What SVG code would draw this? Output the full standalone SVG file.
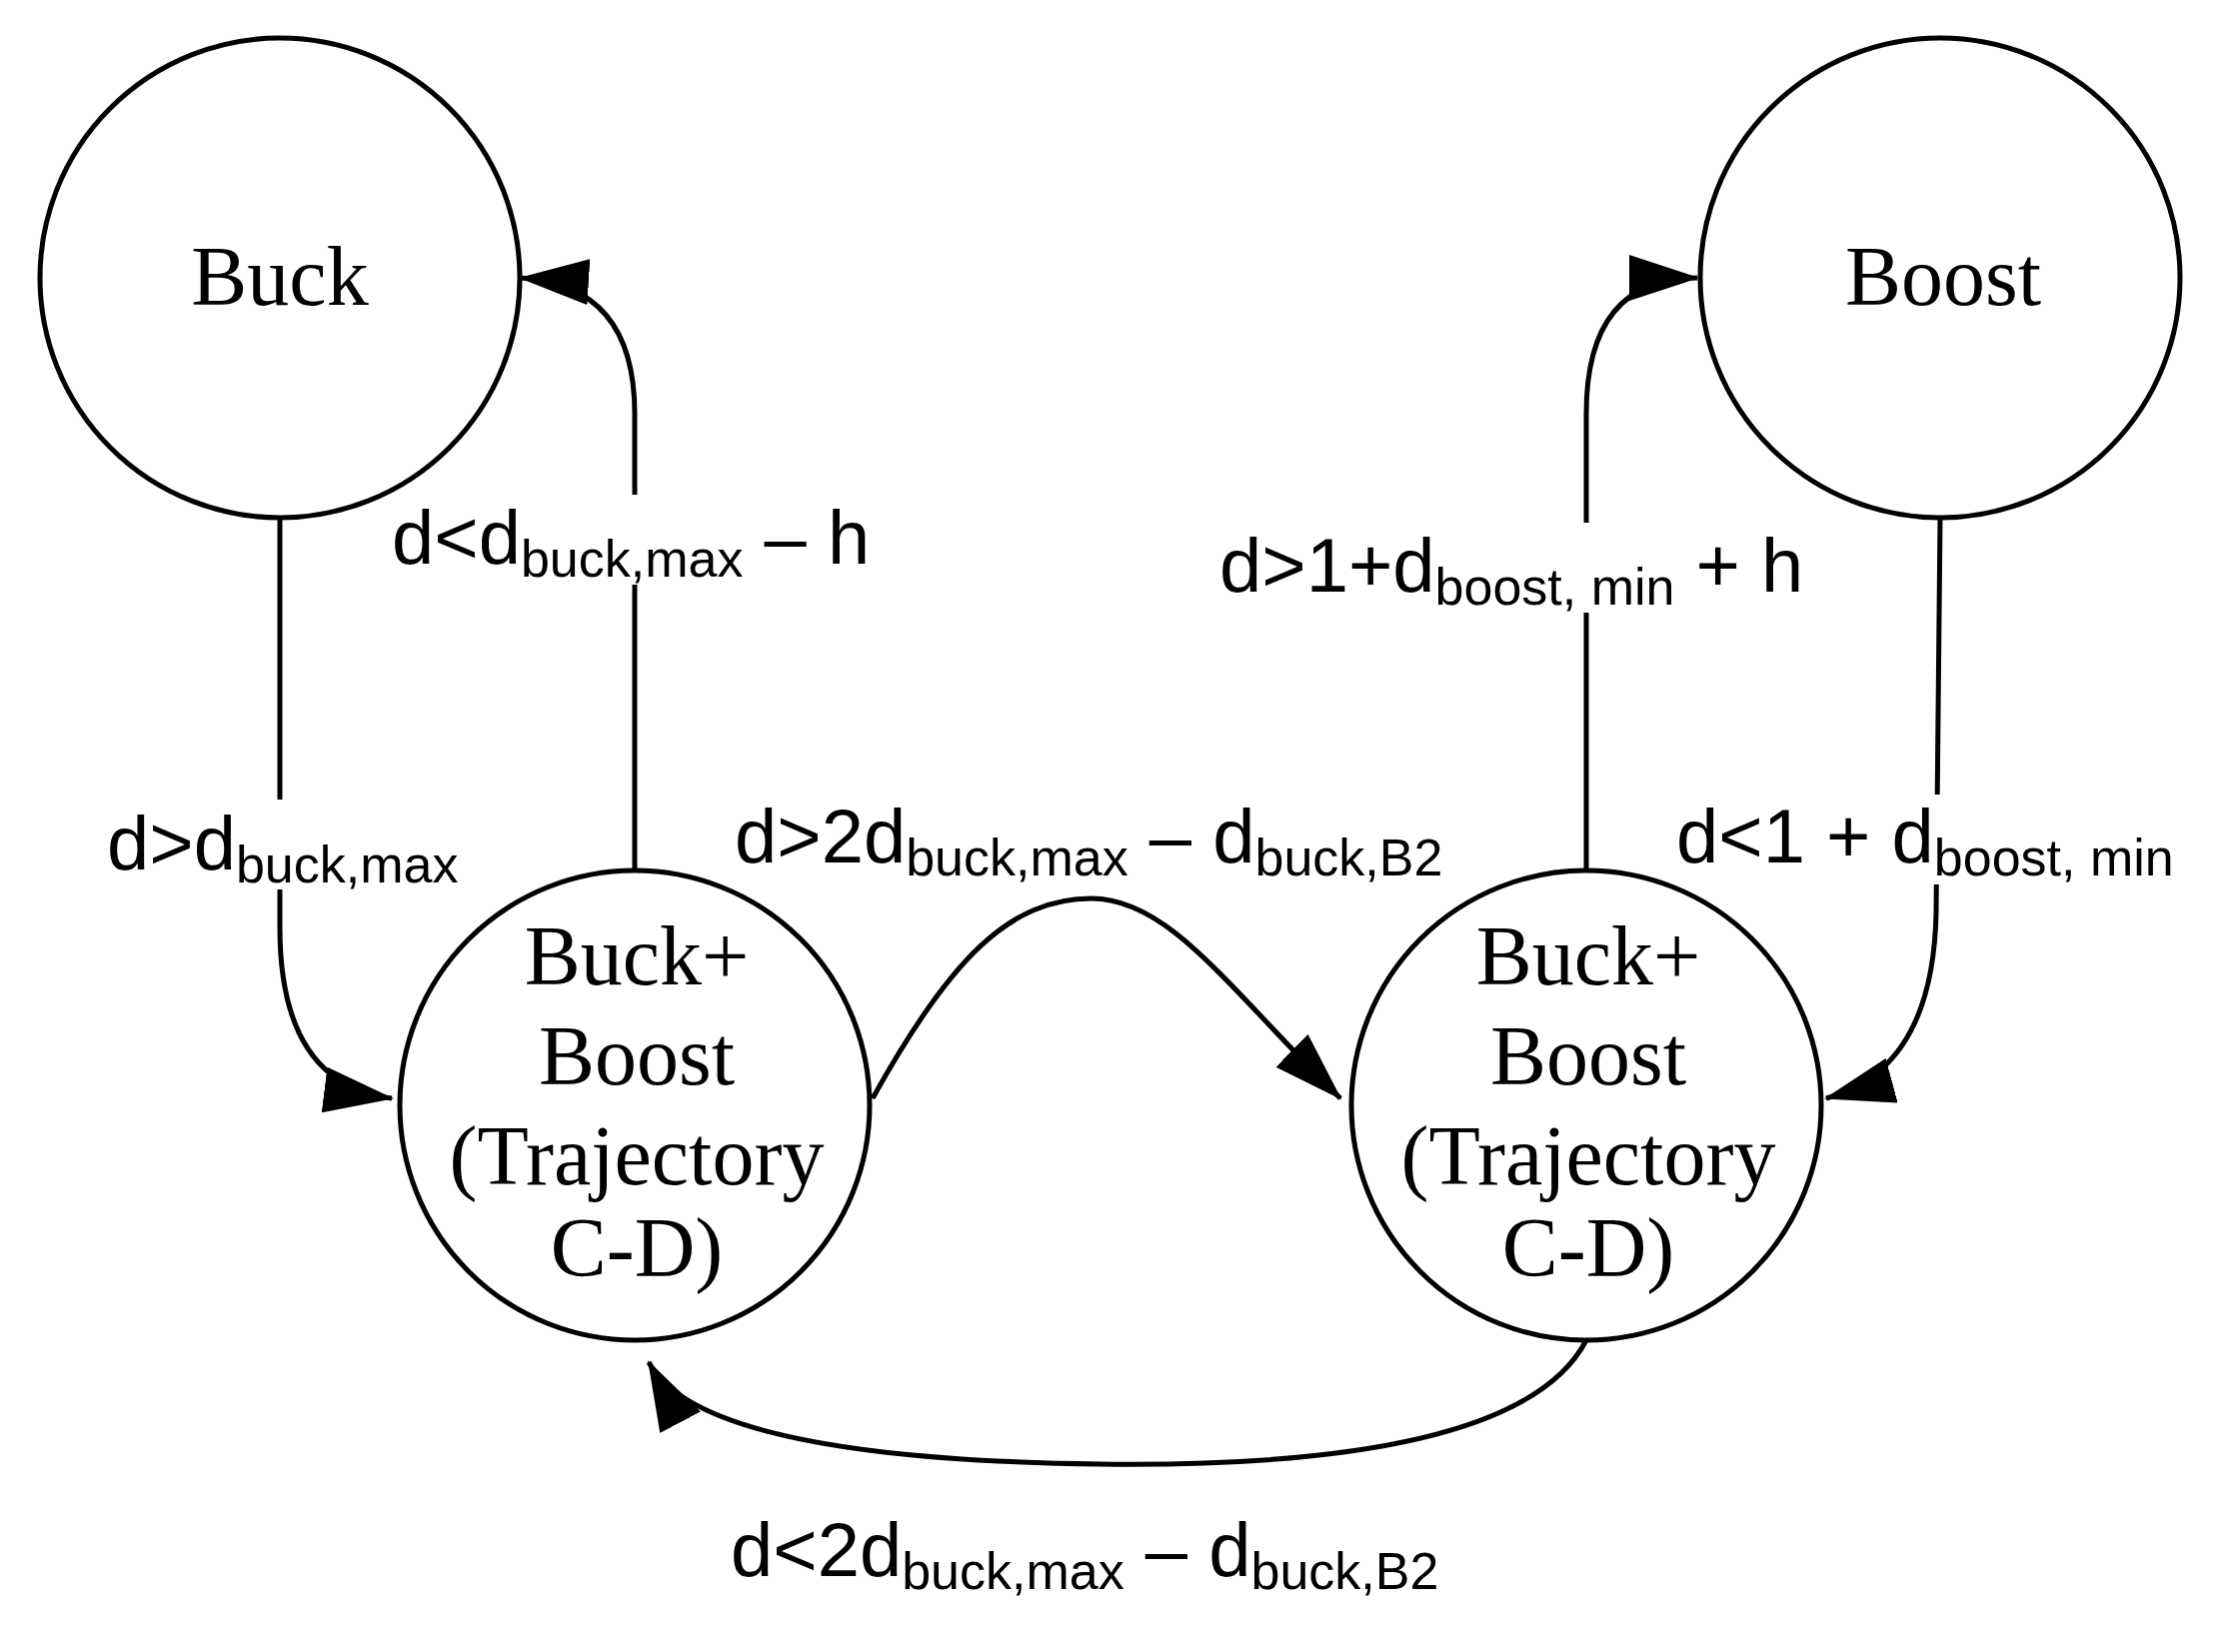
<svg xmlns="http://www.w3.org/2000/svg" width="2226" height="1653" viewBox="0 0 2226 1653">
<style>
.n{fill:#fff;stroke:#000;stroke-width:5}
.c{fill:none;stroke:#000;stroke-width:5}
.t{font-family:"Liberation Serif",serif;font-size:84px;text-anchor:middle}
.l{font-family:"Liberation Sans",sans-serif;font-size:76px}
.s{font-size:52px}
.bg{fill:#fff}
</style>
<defs>
<marker id="a" markerUnits="userSpaceOnUse" markerWidth="70" markerHeight="46" refX="68" refY="23" orient="auto">
<path d="M0,0 L70,23 L0,46 Z" fill="#000"/>
</marker>
</defs>
<rect width="2226" height="1653" fill="#fff"/>
<g id="connectors">
<path class="c" d="M280,518 L280,928 Q280,1085 392,1099" marker-end="url(#a)"/>
<path class="c" d="M635,870 L635,414 Q635,285 521,278" marker-end="url(#a)"/>
<path class="c" d="M1587,870 L1587,414 Q1587,278 1698,278" marker-end="url(#a)"/>
<path class="c" d="M1941,518 L1937,913 Q1934,1070 1827,1099" marker-end="url(#a)"/>
<path class="c" d="M873,1099 C950,960 1010,899 1092,899 C1170,899 1230,990 1341,1099" marker-end="url(#a)"/>
<path class="c" d="M1587,1341 Q1520,1470 1100,1465 Q700,1460 649,1363" marker-end="url(#a)"/>
</g>
<g id="labels">
<rect class="bg" x="385" y="495" width="520" height="90"/>
<text class="l" x="392" y="564">d&lt;d<tspan class="s" dy="13">buck,max</tspan><tspan dy="-13"> – h</tspan></text>
<rect class="bg" x="1215" y="523" width="620" height="90"/>
<text class="l" x="1220" y="592">d&gt;1+d<tspan class="s" dy="13">boost, min</tspan><tspan dy="-13"> + h</tspan></text>
<rect class="bg" x="100" y="800" width="390" height="90"/>
<text class="l" x="107" y="870">d&gt;d<tspan class="s" dy="13">buck,max</tspan></text>
<rect class="bg" x="730" y="795" width="770" height="90"/>
<text class="l" x="735" y="863">d&gt;2d<tspan class="s" dy="13">buck,max</tspan><tspan dy="-13"> – d</tspan><tspan class="s" dy="13">buck,B2</tspan></text>
<rect class="bg" x="1672" y="795" width="550" height="90"/>
<text class="l" x="1677" y="863">d&lt;1 + d<tspan class="s" dy="13">boost, min</tspan></text>
<text class="l" x="731" y="1577">d&lt;2d<tspan class="s" dy="13">buck,max</tspan><tspan dy="-13"> – d</tspan><tspan class="s" dy="13">buck,B2</tspan></text>
</g>
<g id="buck"><circle class="n" cx="280" cy="278" r="240"/><text class="t" x="280" y="305">Buck</text></g>
<g id="boost"><circle class="n" cx="1941" cy="278" r="240"/><text class="t" x="1944" y="305">Boost</text></g>
<g id="bb1"><circle class="n" cx="635" cy="1106" r="235"/>
<text class="t" x="637" y="985">Buck+</text><text class="t" x="637" y="1085">Boost</text><text class="t" x="637" y="1185">(Trajectory</text><text class="t" x="637" y="1277">C-D)</text></g>
<g id="bb2"><circle class="n" cx="1587" cy="1106" r="235"/>
<text class="t" x="1589" y="985">Buck+</text><text class="t" x="1589" y="1085">Boost</text><text class="t" x="1589" y="1185">(Trajectory</text><text class="t" x="1589" y="1277">C-D)</text></g>
</svg>
